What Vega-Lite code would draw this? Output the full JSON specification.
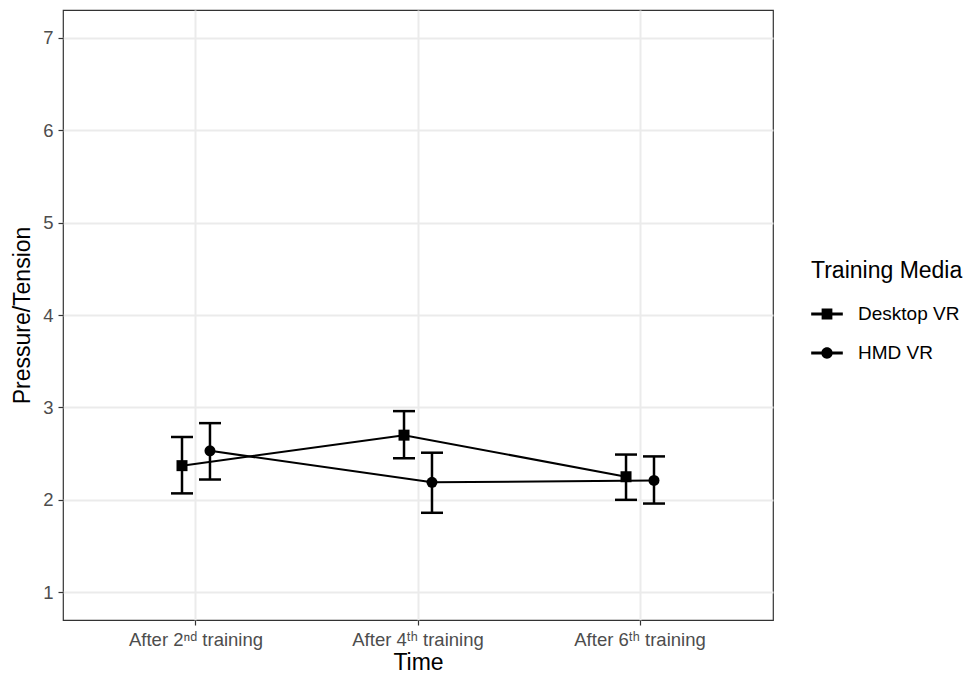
{
  "$schema": "https://vega.github.io/schema/vega-lite/v6.json",
  "width": 710,
  "height": 610,
  "autosize": {"type": "none"},
  "padding": {"left": 63, "top": 10, "right": 197, "bottom": 56},
  "background": "white",
  "config": {
    "font": "Liberation Sans",
    "view": {"stroke": "#333333", "strokeWidth": 1.2},
    "axis": {
      "domain": false,
      "tickColor": "#333333",
      "tickSize": 5,
      "tickWidth": 1.2,
      "labelColor": "#4D4D4D",
      "labelFontSize": 18.5,
      "titleColor": "black",
      "titleFontSize": 23,
      "titleFontWeight": "normal",
      "gridColor": "#EBEBEB"
    }
  },
  "data": {
    "values": [
      {"time": "After 2ⁿᵈ training", "media": "Desktop VR", "mean": 2.37, "lo": 2.07, "hi": 2.68},
      {"time": "After 2ⁿᵈ training", "media": "HMD VR", "mean": 2.53, "lo": 2.22, "hi": 2.83},
      {"time": "After 4ᵗʰ training", "media": "Desktop VR", "mean": 2.70, "lo": 2.45, "hi": 2.96},
      {"time": "After 4ᵗʰ training", "media": "HMD VR", "mean": 2.19, "lo": 1.86, "hi": 2.51},
      {"time": "After 6ᵗʰ training", "media": "Desktop VR", "mean": 2.25, "lo": 2.00, "hi": 2.49},
      {"time": "After 6ᵗʰ training", "media": "HMD VR", "mean": 2.21, "lo": 1.96, "hi": 2.47}
    ]
  },
  "encoding": {
    "x": {
      "field": "time",
      "type": "nominal",
      "sort": null,
      "scale": {"paddingInner": 0.748, "paddingOuter": 0.473},
      "axis": {
        "title": "Time",
        "labelAngle": 0,
        "labelPadding": 5,
        "titlePadding": 3,
        "bandPosition": 0.5,
        "grid": true,
        "gridWidth": 2
      }
    },
    "xOffset": {
      "field": "media",
      "type": "nominal",
      "scale": {"paddingInner": 0, "paddingOuter": 0}
    },
    "y": {
      "field": "mean",
      "type": "quantitative",
      "title": "Pressure/Tension",
      "scale": {"domain": [0.7, 7.3], "nice": false, "zero": false},
      "axis": {
        "values": [1, 1.5, 2, 2.5, 3, 3.5, 4, 4.5, 5, 5.5, 6, 6.5, 7],
        "format": "d",
        "labelExpr": "datum.value % 1 === 0 ? datum.label : ''",
        "labelPadding": 5,
        "titlePadding": 8,
        "grid": true,
        "gridWidth": {"condition": {"test": "datum.value % 1 !== 0", "value": 1}, "value": 2},
        "tickOpacity": {"condition": {"test": "datum.value % 1 !== 0", "value": 0}, "value": 1}
      }
    }
  },
  "layer": [
    {
      "mark": {"type": "line", "color": "black", "strokeWidth": 2},
      "encoding": {"detail": {"field": "media"}}
    },
    {
      "mark": {"type": "rule", "color": "black", "strokeWidth": 2.5, "opacity": 1},
      "encoding": {
        "y": {"field": "lo", "type": "quantitative", "title": "Pressure/Tension"},
        "y2": {"field": "hi"}
      }
    },
    {
      "mark": {"type": "tick", "color": "black", "size": 22, "thickness": 2.5, "orient": "horizontal", "opacity": 1},
      "encoding": {"y": {"field": "lo", "type": "quantitative", "title": "Pressure/Tension"}}
    },
    {
      "mark": {"type": "tick", "color": "black", "size": 22, "thickness": 2.5, "orient": "horizontal", "opacity": 1},
      "encoding": {"y": {"field": "hi", "type": "quantitative", "title": "Pressure/Tension"}}
    },
    {
      "mark": {"type": "point", "filled": true, "color": "black", "size": 121, "opacity": 1},
      "encoding": {
        "shape": {
          "field": "media",
          "type": "nominal",
          "scale": {"range": ["square", "circle"]},
          "legend": null
        }
      }
    },
    {
      "mark": {"type": "point", "filled": true, "color": "black", "size": 121, "opacity": 0},
      "encoding": {
        "shape": {
          "field": "media",
          "type": "nominal",
          "scale": {
            "range": [
              "M-1,-0.09H1V0.09H-1Z M-0.34,-0.34H0.34V0.34H-0.34Z",
              "M-1,-0.09H1V0.09H-1Z M-0.36,0A0.36,0.36 0 1,1 0.36,0A0.36,0.36 0 1,1 -0.36,0Z"
            ]
          },
          "legend": {
            "title": "Training Media",
            "orient": "none",
            "legendX": 748,
            "legendY": 250,
            "titleFontSize": 23,
            "titleFontWeight": "normal",
            "titleColor": "black",
            "titlePadding": 15,
            "labelFontSize": 19,
            "labelColor": "black",
            "labelOffset": 15,
            "symbolSize": 1000,
            "symbolFillColor": "black",
            "symbolStrokeColor": "black",
            "symbolStrokeWidth": 0,
            "symbolOpacity": 1,
            "rowPadding": 13,
            "encode": {"symbols": {"update": {"opacity": {"value": 1}, "fill": {"value": "black"}}}}
          }
        }
      }
    }
  ],
  "resolve": {"scale": {"shape": "independent"}}
}
